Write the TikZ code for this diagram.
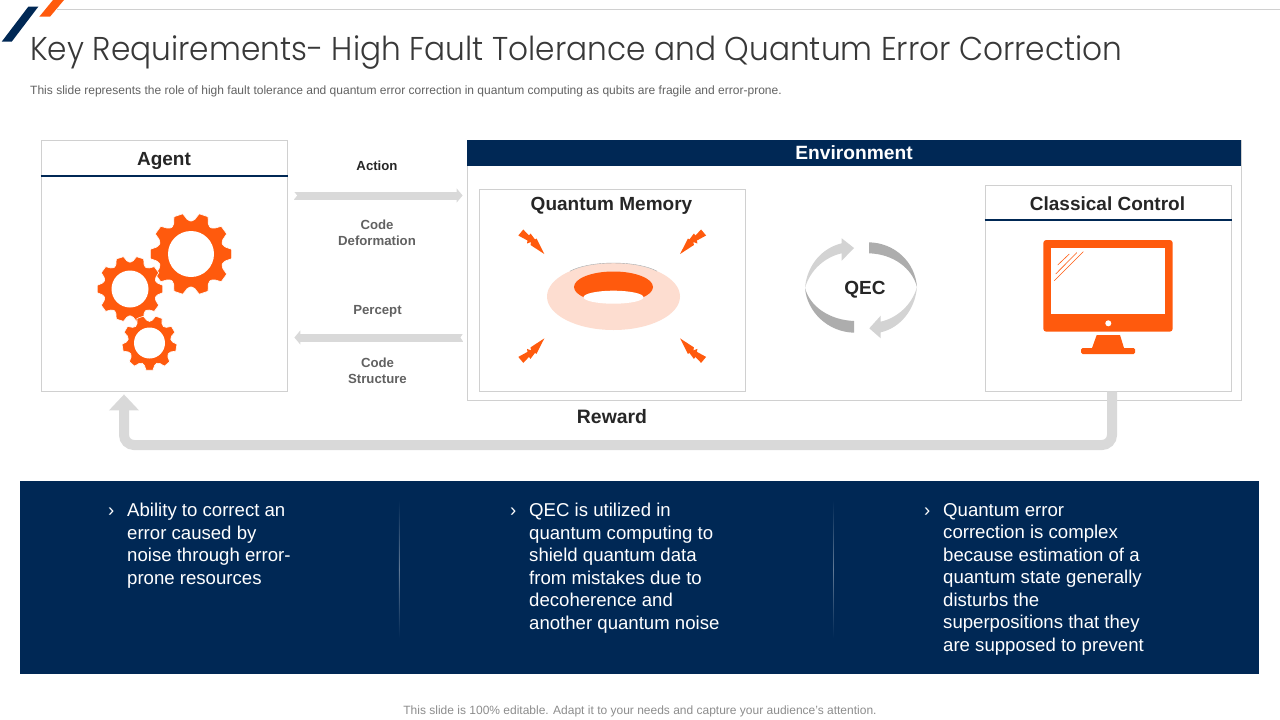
\documentclass[tikz,border=0pt]{standalone}
\usepackage{fontspec}
\usetikzlibrary{arrows.meta}
\setmainfont{Liberation Sans}
\newfontfamily\titlefont{Poppins}[UprightFont=* Light]
\definecolor{navy}{HTML}{002855}
\definecolor{accent}{HTML}{FF5A0D}
\definecolor{pinky}{HTML}{FDDDD0}
\definecolor{edge}{HTML}{D0D0D0}
\definecolor{flowgray}{HTML}{D9D9D9}
\definecolor{darkarc}{HTML}{ADADAD}
\definecolor{lightarc}{HTML}{D3D3D3}
\newcommand\fs[2]{\fontsize{#1}{#2}\selectfont}
\tikzset{
  x=1pt,y=-1pt,
  box/.style={draw=edge,line width=0.8pt,fill=white,inner sep=0pt},
  head/.style={font=\bfseries\fs{19}{23},text=black!85,inner sep=0pt},
  lab/.style={font=\bfseries\fs{13.2}{16},text=black!62,inner sep=0pt,align=center},
  flow/.style={draw=flowgray,line width=8pt,-{Triangle[length=6pt,width=14pt]}},
  rule/.style={draw=navy,line width=2.4pt},
  panel/.style={font=\fs{18.6}{22.5},text=white,inner sep=0pt,align=left,anchor=north west},
  sep/.style={top color=navy,bottom color=navy,middle color=navy!62!white},
}
\newcommand\gearshape[7]{%
  \begin{scope}[shift={(#1,#2)}]
    \pgfmathsetmacro\stp{360/#6}
    \pgfmathtruncatemacro\nn{#6-1}
    \fill[accent,draw=white,line width=0.6pt] ({#7-0.32*\stp}:#4pt)
      \foreach \k [evaluate=\k as \a using #7+\k*\stp] in {0,...,\nn} {
        -- ({\a-0.32*\stp}:#4pt) -- ({\a-0.18*\stp}:#3pt) -- ({\a+0.18*\stp}:#3pt) -- ({\a+0.32*\stp}:#4pt)
        .. controls ({\a+0.5*\stp}:{0.92*#4pt}) .. ({\a+0.68*\stp}:#4pt)
      } -- cycle;
    \fill[white] (0pt,0pt) circle[radius=#5pt];
  \end{scope}}
\newcommand\boltshape{%
  \fill[accent] (523.3,229.5) -- (529,235.5) -- (530.5,233.5) -- (535,239.5) -- (536.5,238.5) -- (544.3,254) -- (530.5,245) -- (531,242) -- (527,243.5) -- (527.5,240.5) -- (518.3,235.5) -- cycle;}
\begin{document}
\begin{tikzpicture}
\useasboundingbox (0,0) rectangle (1280,720);
% top marks
\draw[edge,line width=0.8pt] (57,9.5) -- (1280,9.5);
\fill[navy] (1.7,41.7) -- (11.7,41.7) -- (38.3,6.7) -- (28.3,6.7) -- cycle;
\fill[accent] (39.3,16.7) -- (50,16.7) -- (64,0) -- (53,0) -- cycle;
% title
\node[anchor=west,inner sep=0pt,text=black!78] (title) at (30,53) {\scalebox{0.945}[1]{\titlefont\fs{33}{40}Key Requirements- High Fault Tolerance and Quantum Error Correction}};
\node[anchor=west,inner sep=0pt,text=black!62] (sub) at (30,91) {\fs{12.03}{14}This slide represents the role of high fault tolerance and quantum error correction in quantum computing as qubits are fragile and error-prone.};
% boxes
\node[box,minimum width=246.5pt,minimum height=251pt] (agent) at (164.25,265.5) {};
\node[box,minimum width=774pt,minimum height=260.5pt] (env) at (854,270.25) {};
\node[box,minimum width=266pt,minimum height=201.5pt] (qm) at (612.5,290.25) {};
\node[box,minimum width=246.5pt,minimum height=206pt] (cc) at (1108.25,288) {};
\node[fill=navy,minimum width=774pt,minimum height=26pt,inner sep=0pt,text=white,font=\bfseries\fs{19.2}{23}] (envbar) at (854,153) {Environment};
\draw[rule] (agent.west |- 0,176) -- (agent.east |- 0,176);
\draw[rule] (cc.west |- 0,220) -- (cc.east |- 0,220);
\node[head] (agentlab) at (164,161) {Agent};
\node[head] (qmlab) at (611.5,206) {Quantum Memory};
\node[head] (cclab) at (1107.5,204) {Classical Control};
% gears
\gearshape{191}{254}{41}{35}{23}{10}{0}
\gearshape{130}{289}{33}{28.5}{18.5}{10}{0}
\gearshape{149.5}{343}{27.5}{23}{15.5}{9}{270}
% torus
\fill[pinky] (613.5,296.5) ellipse[x radius=66.5,y radius=33.5];
\draw[black!35,line width=0.4pt] (570,271.2) .. controls (590,260.3) and (637,260.3) .. (657,271.2);
\fill[accent] (613.5,287) ellipse[x radius=39.5,y radius=15.5];
\fill[white] (613.5,297.2) ellipse[x radius=30,y radius=6.5];
% bolts
\boltshape
\begin{scope}[shift={(1224.4,0)},xscale=-1]\boltshape\end{scope}
\begin{scope}[shift={(0,592.4)},yscale=-1]\boltshape\end{scope}
\begin{scope}[shift={(1224.4,592.4)},xscale=-1,yscale=-1]\boltshape\end{scope}
% QEC arrows
\fill[darkarc] (869,242.3) .. controls (895,243) and (915,262) .. (917,287) .. controls (912,268) and (893,254) .. (869,253.3) -- cycle;
\fill[lightarc] (917,287) .. controls (915,310) and (900,328) .. (880.7,332.3) -- (880.7,338.3) -- (869.3,328.3) -- (880.7,315.7) -- (880.7,321.7) .. controls (897,318) and (912,305) .. (917,287) -- cycle;
\fill[darkarc] (854,332.7) .. controls (828,332) and (807,312) .. (805,288) .. controls (810,307) and (830,320) .. (854,321) -- cycle;
\fill[lightarc] (805,288) .. controls (807,265) and (822,248) .. (841.7,243.3) -- (841.7,238.3) -- (854,248) -- (841.7,260.7) -- (841.7,253.3) .. controls (825,257) and (810,270) .. (805,288) -- cycle;
\node[font=\bfseries\fs{19}{23},text=black!85,inner sep=0pt] (qec) at (865,289.5) {QEC};
% monitor
\fill[accent,rounded corners=3pt] (1043.3,240) rectangle (1172.7,331.7);
\fill[white] (1051.3,248.3) rectangle (1165,314);
\fill[white] (1108.3,323.3) circle[radius=3pt];
\fill[accent] (1096.7,335) -- (1120,335) -- (1124.3,349) -- (1091.7,349) -- cycle;
\fill[accent,rounded corners=1.5pt] (1081,348) rectangle (1135,354);
\draw[accent,line width=0.6pt] (1057.7,265) -- (1069.3,254) (1055.7,274) -- (1076.7,252.7) (1054.3,280.7) -- (1083.3,251.7);
% connectors
\coordinate (act) at (0,195.5);
\coordinate (per) at (0,337.5);
\draw[flow,shorten <=6.5pt,shorten >=4pt] (agent.east |- act) -- (env.west |- act);
\draw[flow,shorten <=4pt,shorten >=6.5pt] (env.west |- per) -- (agent.east |- per);
\fill[white] (293.5,191) -- (297,195.5) -- (293.5,200) -- cycle;
\fill[white] (463.5,333) -- (460.5,337.5) -- (463.5,342) -- cycle;
\node[lab,text=black!85] (action) at (377,166) {Action};
\node[lab] (deform) at (377,232.5) {Code\\Deformation};
\node[lab] (percept) at (377.5,311.5) {Percept};
\node[lab] (struct) at (377.5,370.5) {Code\\Structure};
\coordinate (rwr) at (1112,445);
\coordinate (rwl) at (124,445);
\draw[draw=flowgray,line width=10pt,rounded corners=10pt,-{Triangle[length=16pt,width=29pt]},shorten >=3pt] (cc.south -| rwr) -- (rwr) -- (rwl) -- (agent.south -| rwl);
\node[head,font=\bfseries\fs{19.4}{23}] (reward) at (612,416.5) {Reward};
% bottom panel
\node[fill=navy,minimum width=1239pt,minimum height=193pt,inner sep=0pt] (band) at (639.5,577.5) {};
\shade[sep] (398.8,500) rectangle (399.6,638);
\shade[sep] (833,500) rectangle (833.8,638);
\node[panel] (b1) at (108,503) {\vphantom{A}›};
\node[panel] (t1) at (127,503) {Ability to correct an\\error caused by\\noise through error-\\prone resources};
\node[panel] (b2) at (510,503) {\vphantom{A}›};
\node[panel] (t2) at (529,503) {QEC is utilized in\\quantum computing to\\shield quantum data\\from mistakes due to\\decoherence and\\another quantum noise};
\node[panel] (b3) at (924,503) {\vphantom{A}›};
\node[panel] (t3) at (943,503) {Quantum error\\correction is complex\\because estimation of a\\quantum state generally\\disturbs the\\superpositions that they\\are supposed to prevent};
\node[inner sep=0pt,text=black!45] (foot) at (640,711.5) {\fs{12}{14}This slide is 100\% editable. Adapt it to your needs and capture your audience's attention.};
\end{tikzpicture}
\end{document}
